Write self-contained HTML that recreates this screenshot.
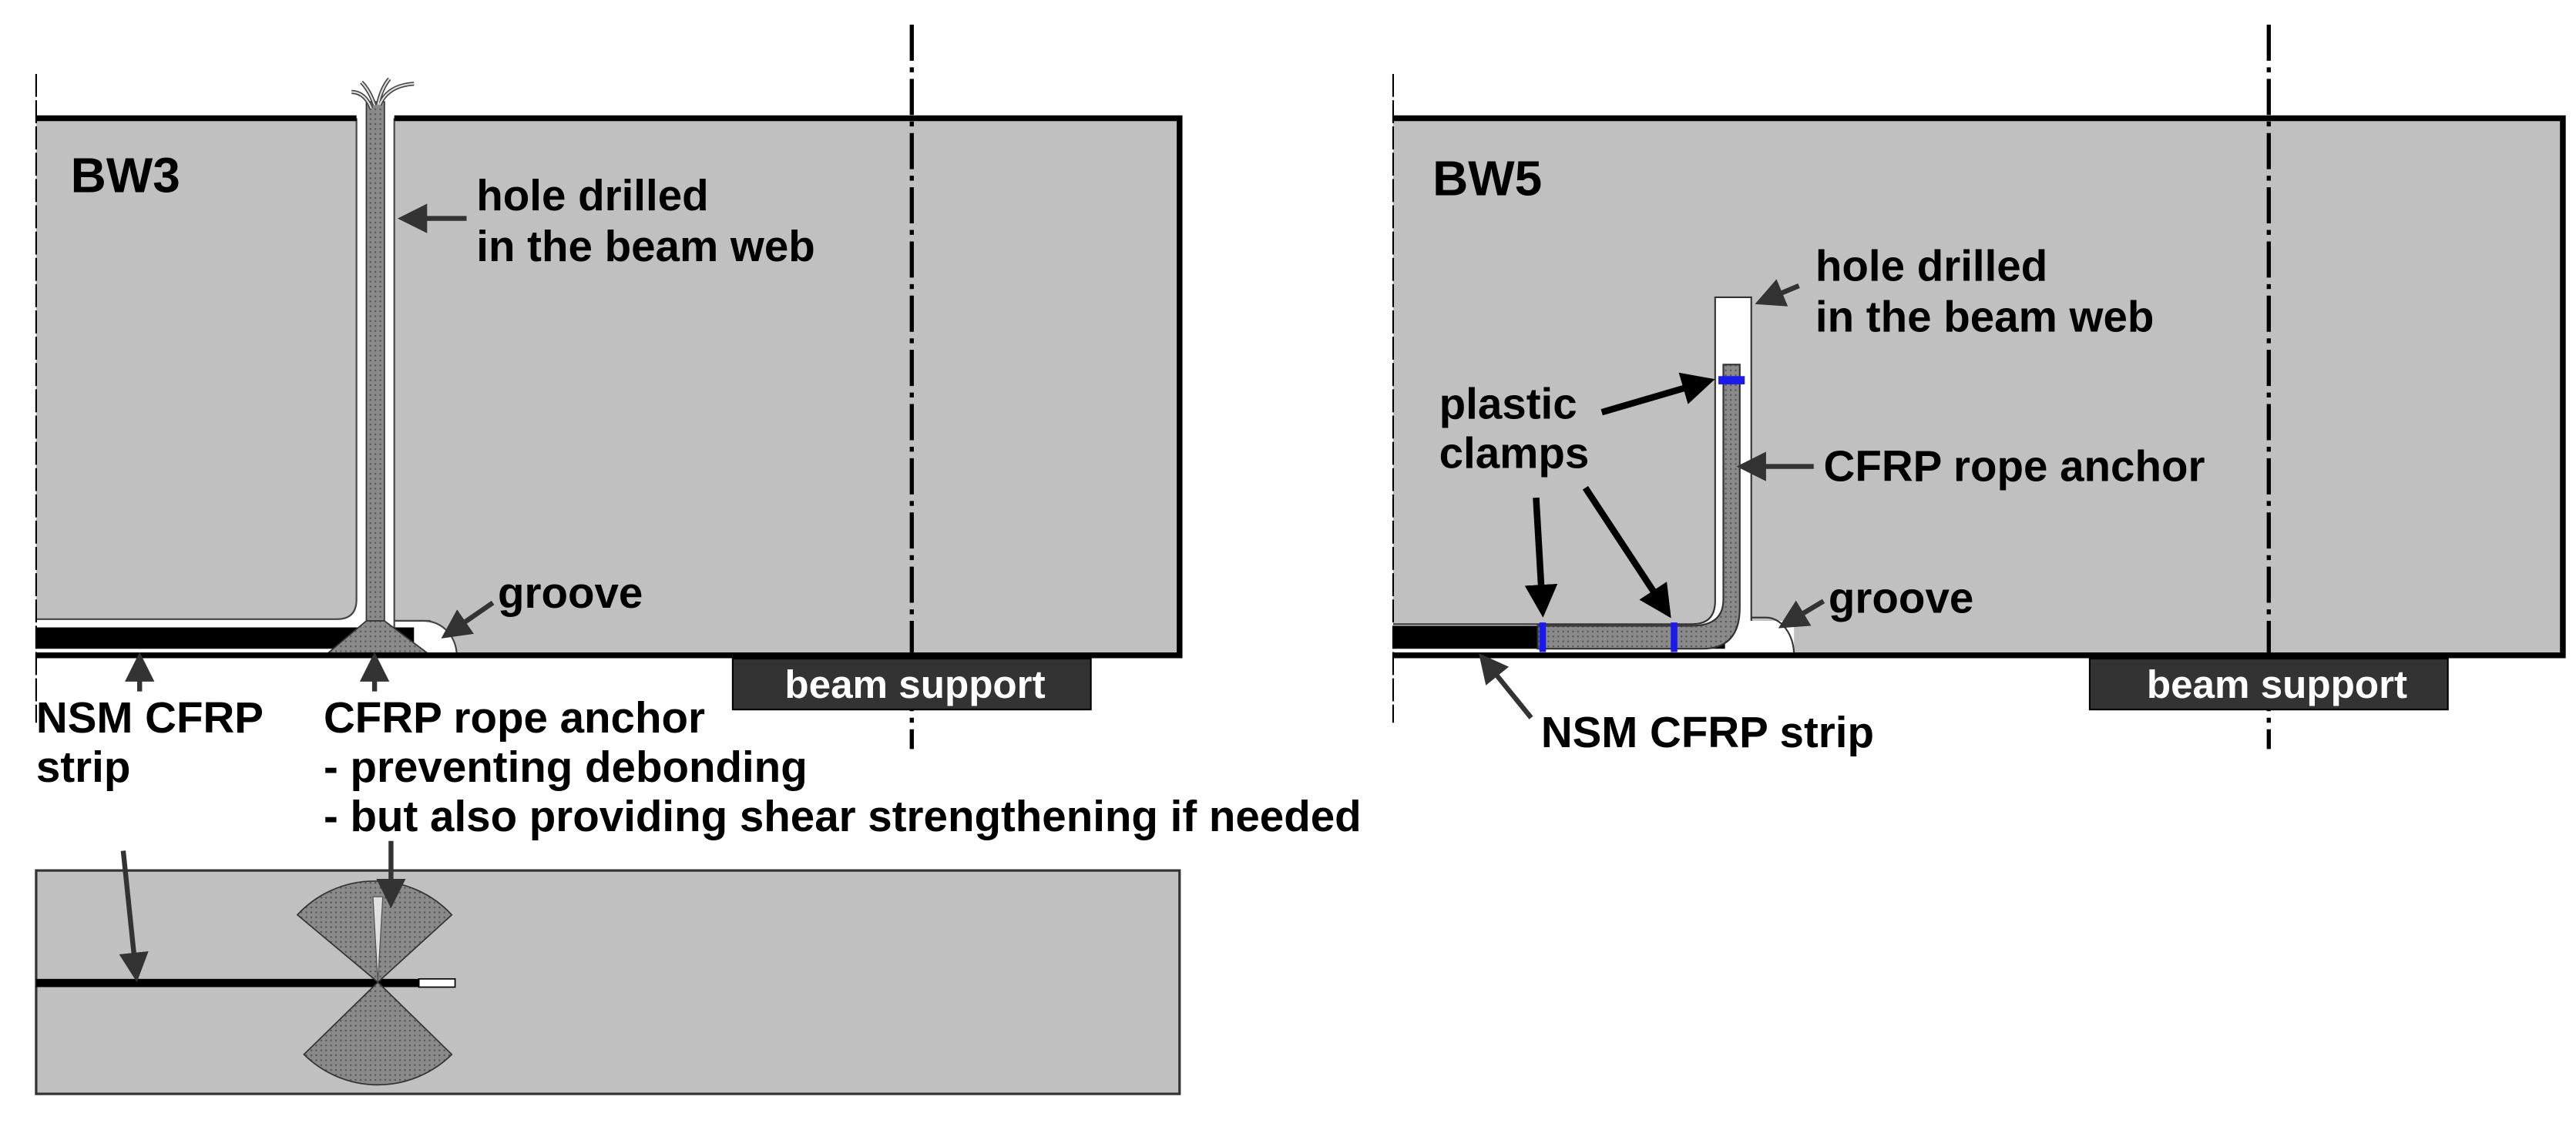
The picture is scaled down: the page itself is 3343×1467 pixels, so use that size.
<!DOCTYPE html>
<html><head><meta charset="utf-8"><style>
html,body{margin:0;padding:0;background:#fff;}
svg{display:block;}
text{font-family:"Liberation Sans",Arial,sans-serif;font-weight:bold;fill:#000;}
</style></head><body>
<svg width="3343" height="1467" viewBox="0 0 1568 688" preserveAspectRatio="none" xmlns="http://www.w3.org/2000/svg">
<defs>
<pattern id="dots" width="3" height="3" patternUnits="userSpaceOnUse">
<rect width="3" height="3" fill="#8a8a8a"/><rect width="1" height="1" fill="#555"/>
</pattern>
<marker id="ah" markerWidth="6" markerHeight="6" refX="5" refY="3" orient="auto" markerUnits="strokeWidth">
<path d="M0,0 L6,3 L0,6 z" fill="#333"/>
</marker>
<marker id="ahk" markerWidth="5" markerHeight="5" refX="4" refY="2.5" orient="auto" markerUnits="strokeWidth">
<path d="M0,0 L5,2.5 L0,5 z" fill="#000"/>
</marker>
</defs>

<rect x="22" y="72" width="696" height="327" fill="#c0c0c0"/>
<path d="M22,377 L205,377 Q217,377 217,365 L217,72 L240,72 L240,378 L262,378 L262,399 L22,399 Z" fill="#fff"/>
<path d="M22,377 L205,377 Q217,377 217,365 L217,72" fill="none" stroke="#444" stroke-width="1"/>
<path d="M240,72 L240,378 L262,378" fill="none" stroke="#444" stroke-width="1"/>
<path d="M240,378 L258,378 A20,21 0 0 1 278,399 L240,399 Z" fill="#fff" stroke="#444" stroke-width="1"/>
<rect x="22" y="382" width="230" height="13" fill="#000"/>
<rect x="223" y="62" width="11" height="320" fill="url(#dots)" stroke="#333" stroke-width="0.8"/>
<path d="M223,378 L198,399 L262,399 L234,378 Z" fill="url(#dots)" stroke="#333" stroke-width="0.8"/>
<g fill="none" stroke="#444" stroke-width="2.5">
<path d="M226,66 Q222,56 214,56"/><path d="M228,64 Q225,55 220,50"/><path d="M230,64 Q232,54 237,48"/><path d="M231,64 Q236,52 252,51"/>
</g>
<g fill="none" stroke="#ddd" stroke-width="1">
<path d="M226,66 Q222,56 214,56"/><path d="M228,64 Q225,55 220,50"/><path d="M230,64 Q232,54 237,48"/><path d="M231,64 Q236,52 252,51"/>
</g>
<path d="M22,72 L217,72 M240,72 L718,72 L718,399 L22,399" fill="none" stroke="#000" stroke-width="3.5"/>
<line x1="22" y1="45" x2="22" y2="440" stroke="#000" stroke-width="1" stroke-dasharray="14,2"/>
<line x1="555" y1="15" x2="555" y2="456" stroke="#000" stroke-width="2.5" stroke-dasharray="22,4,3,4"/>
<rect x="446" y="401" width="218" height="31" fill="#333" stroke="#000" stroke-width="1"/>
<text x="557" y="425" text-anchor="middle" style="fill:#fff" font-size="24">beam support</text>

<text x="43" y="117" font-size="30">BW3</text>
<text x="290" y="128" font-size="26.5">hole drilled</text>
<text x="290" y="159" font-size="26.5">in the beam web</text>
<line x1="284" y1="133" x2="245" y2="133" stroke="#333" stroke-width="3" marker-end="url(#ah)"/>
<text x="303" y="370" font-size="26.5">groove</text>
<line x1="300" y1="367" x2="271" y2="387" stroke="#333" stroke-width="3" marker-end="url(#ah)"/>
<line x1="85" y1="421" x2="85" y2="400" stroke="#333" stroke-width="3" marker-end="url(#ah)"/>
<line x1="228" y1="421" x2="228" y2="400" stroke="#333" stroke-width="3" marker-end="url(#ah)"/>
<text x="22" y="446" font-size="26.5">NSM CFRP</text>
<text x="22" y="476" font-size="26.5">strip</text>
<text x="197" y="446" font-size="26.5">CFRP rope anchor</text>
<text x="197" y="476" font-size="26.5">- preventing debonding</text>
<text x="197" y="506" font-size="26.5">- but also providing shear strengthening if needed</text>

<rect x="22" y="530" width="696" height="136" fill="#c0c0c0" stroke="#333" stroke-width="1.5"/>
<rect x="22" y="596" width="233" height="5" fill="#000"/>
<rect x="255" y="596" width="22" height="5" fill="#fff" stroke="#000" stroke-width="0.8"/>
<path d="M230,598 L181,557 A64,64 0 0 1 275,557 Z" fill="url(#dots)" stroke="#333" stroke-width="0.8"/>
<path d="M230,598 L227,546 L233,546 Z" fill="#e0e0e0" stroke="#555" stroke-width="0.6"/>
<path d="M230,598 L185,642 A64,64 0 0 0 275,642 Z" fill="url(#dots)" stroke="#333" stroke-width="0.8"/>
<line x1="75" y1="518" x2="83" y2="595" stroke="#333" stroke-width="3" marker-end="url(#ah)"/>
<line x1="238" y1="512" x2="238" y2="550" stroke="#333" stroke-width="3" marker-end="url(#ah)"/>

<rect x="848" y="72" width="712" height="327" fill="#c0c0c0"/>
<path d="M848,380 L1030,380 Q1044,380 1044,366 L1044,181 L1066,181 L1066,378 L1092,378 L1092,399 L848,399 Z" fill="#fff"/>
<path d="M848,380 L1030,380 Q1044,380 1044,366 L1044,181 L1066,181 L1066,378" fill="none" stroke="#333" stroke-width="1"/>
<path d="M1066,376 L1075,376 A17,23 0 0 1 1092,399" fill="none" stroke="#333" stroke-width="1"/>
<rect x="848" y="381" width="202" height="14" fill="#000"/>
<path d="M1049,222 L1059,222 L1059,370 Q1059,395 1036,395 L936,395 L936,381 L1030,381 Q1049,381 1049,365 Z" fill="url(#dots)" stroke="#333" stroke-width="1"/>
<rect x="1046" y="229" width="16" height="5" fill="#1a1aee"/>
<rect x="937" y="379" width="4" height="18" fill="#1a1aee"/>
<rect x="1017" y="379" width="4" height="18" fill="#1a1aee"/>
<path d="M848,72 L1560,72 L1560,399 L848,399" fill="none" stroke="#000" stroke-width="3.5"/>
<line x1="848" y1="45" x2="848" y2="440" stroke="#000" stroke-width="1" stroke-dasharray="14,2"/>
<line x1="1381" y1="15" x2="1381" y2="456" stroke="#000" stroke-width="2.5" stroke-dasharray="22,4,3,4"/>
<rect x="1272" y="401" width="218" height="31" fill="#333" stroke="#000" stroke-width="1"/>
<text x="1386" y="425" text-anchor="middle" style="fill:#fff" font-size="24">beam support</text>

<text x="872" y="119" font-size="30">BW5</text>
<text x="1105" y="171" font-size="26.5">hole drilled</text>
<text x="1105" y="202" font-size="26.5">in the beam web</text>
<line x1="1095" y1="174" x2="1071" y2="184" stroke="#333" stroke-width="3" marker-end="url(#ah)"/>
<text x="876" y="255" font-size="26.5">plastic</text>
<text x="876" y="285" font-size="26.5">clamps</text>
<line x1="975" y1="251" x2="1040" y2="232" stroke="#000" stroke-width="4" marker-end="url(#ahk)"/>
<line x1="935" y1="303" x2="939" y2="372" stroke="#000" stroke-width="4" marker-end="url(#ahk)"/>
<line x1="965" y1="297" x2="1015" y2="373" stroke="#000" stroke-width="4" marker-end="url(#ahk)"/>
<text x="1110" y="293" font-size="26.5">CFRP rope anchor</text>
<line x1="1104" y1="284" x2="1060" y2="284" stroke="#333" stroke-width="3" marker-end="url(#ah)"/>
<text x="1113" y="373" font-size="26.5">groove</text>
<line x1="1110" y1="366" x2="1085" y2="381" stroke="#333" stroke-width="3" marker-end="url(#ah)"/>
<line x1="932" y1="437" x2="902" y2="400" stroke="#333" stroke-width="3" marker-end="url(#ah)"/>
<text x="938" y="455" font-size="26.5">NSM CFRP strip</text>
</svg>
</body></html>
